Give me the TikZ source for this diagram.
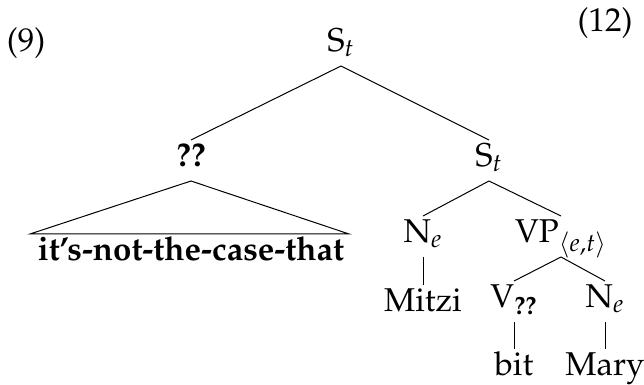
\documentclass[tikz,border=0pt]{standalone}
\usepackage[T1]{fontenc}
\usepackage{mathpazo}
\usepackage{amsmath}
\begin{document}
\begin{tikzpicture}[x=0.5pt,y=-0.5pt,
  lbl/.style={font=\fontsize{16.5}{20}\selectfont, anchor=base,
    inner sep=0pt, outer sep=0pt, text height=13.5pt, text depth=7pt},
  branch/.style={line width=0.5pt}]
\useasboundingbox (0,0) rectangle (644,385);

% example numbers
\node[lbl] (ex9) at (26,52) {(9)};
\node[lbl] (ex12) at (605,32) {(12)};

% tree nodes
\node[lbl] (root) at (341,52) {S$_t$};
\node[lbl] (q) at (191,167) {\textbf{??}};
\node[lbl] (s) at (489,167) {S$_t$};
\node[lbl] (neg) at (191,261) {\textbf{it's-not-the-case-that}};
\node[lbl] (n1) at (423,243) {N$_e$};
\node[lbl] (vp) at (561,243) {VP$_{\langle e,t\rangle}$};
\node[lbl] (mitzi) at (423,312) {Mitzi};
\node[lbl] (v) at (514,308) {V$_{\text{\bfseries ??}}$};
\node[lbl] (n2) at (605,308) {N$_e$};
\node[lbl] (bit) at (514,376) {bit};
\node[lbl] (mary) at (605,376) {Mary};

% branches
\draw[branch] (root.south) -- (q.north);
\draw[branch] (root.south) -- (s.north);
\draw[branch] (s.south) -- (n1.north);
\draw[branch] (s.south) -- (vp.north);
\draw[branch] (n1.south) -- (mitzi.north);
\draw[branch] (vp.south) -- (v.north);
\draw[branch] (vp.south) -- (n2.north);
\draw[branch] (v.south) -- (bit.north);
\draw[branch] (n2.south) -- (mary.north);

% roof over the unanalysed phrase
\coordinate (roofl) at ([xshift=-4pt]neg.north west);
\coordinate (roofr) at ([xshift=2.5pt]neg.north east);
\draw[branch] (q.south) -- (roofl) -- (roofr) -- cycle;
\end{tikzpicture}
\end{document}
